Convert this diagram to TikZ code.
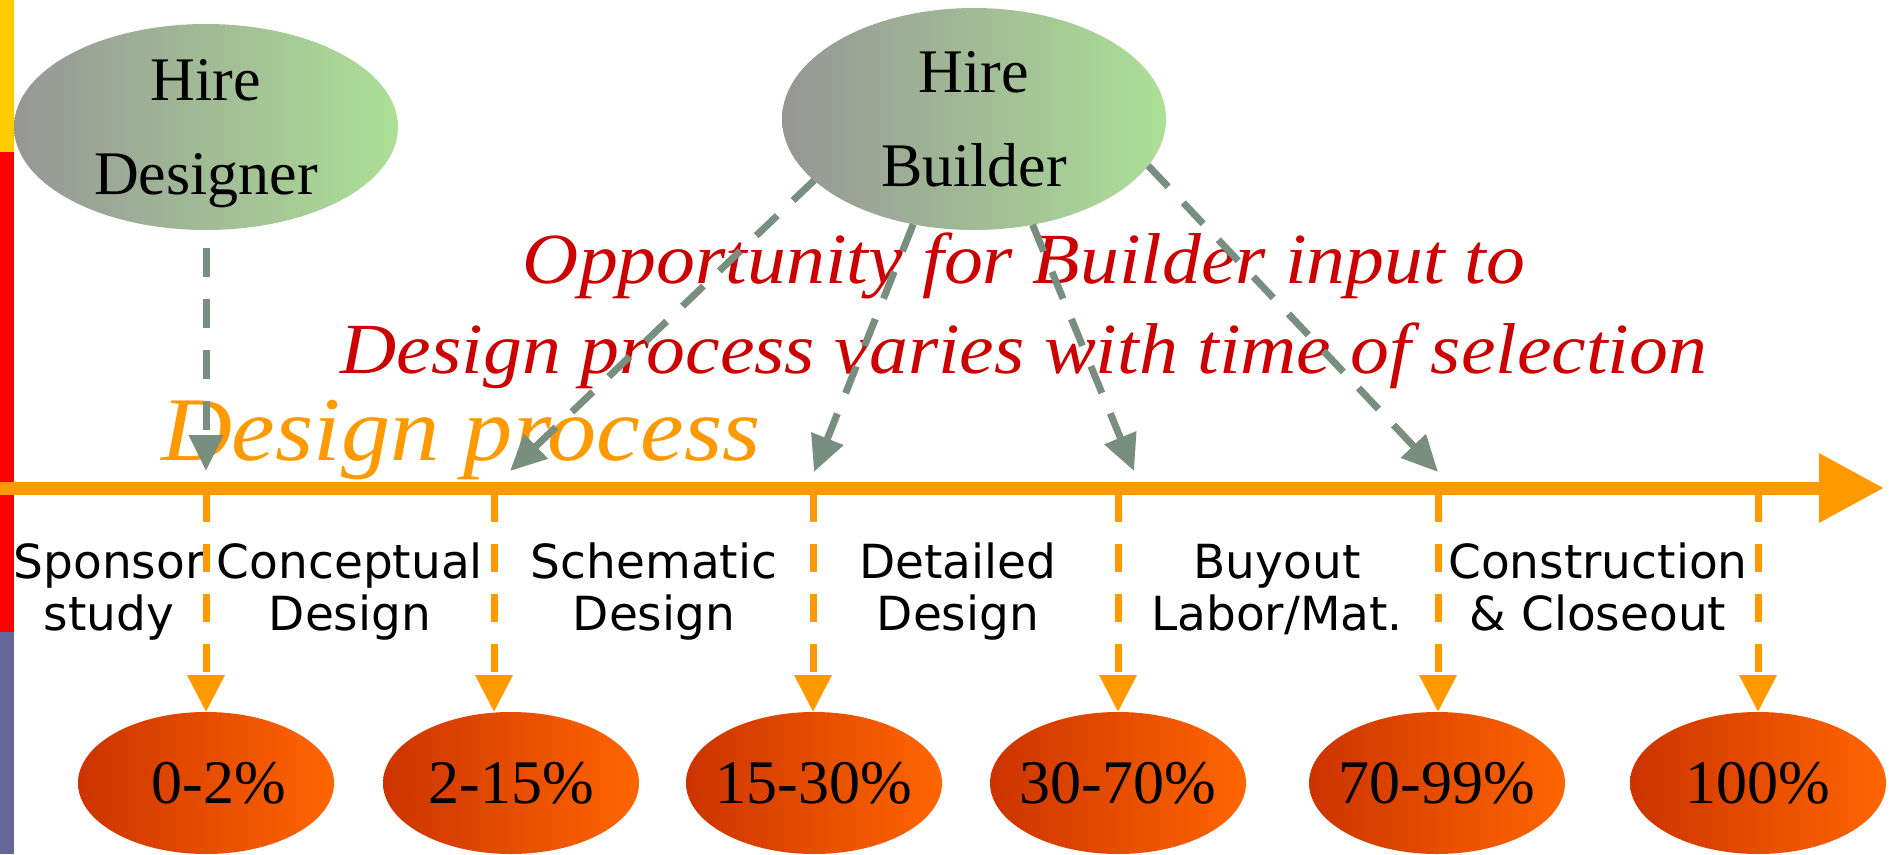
\documentclass[tikz,border=0pt]{standalone}
\usepackage{fontspec}
\setmainfont{Liberation Serif}
\setsansfont{DejaVu Sans}
\newfontfamily\slidefont{Liberation Serif}[FakeStretch=1.08]
\usepackage{tikz}
\usetikzlibrary{positioning,arrows.meta,shapes.geometric,calc}

\definecolor{barYellow}{HTML}{FFCC00}
\definecolor{barRed}{HTML}{FF0000}
\definecolor{barBlue}{HTML}{666699}
\definecolor{axisOrange}{HTML}{FF9900}
\definecolor{hintGrey}{RGB}{120,142,126}
\definecolor{hireL}{RGB}{150,150,150}
\definecolor{hireR}{RGB}{172,224,150}
\definecolor{pctL}{HTML}{CC3300}
\definecolor{pctR}{HTML}{FF6600}
\definecolor{noteRed}{HTML}{CC0000}

\begin{document}
\begin{tikzpicture}[x=1pt,y=-1pt,every node/.style={inner sep=0,outer sep=0},
    hire/.style={ellipse,minimum width=384pt,left color=hireL,right color=hireR,
        align=center,text depth=0pt,font=\fontsize{62}{94}\selectfont},
    pct/.style={ellipse,minimum width=256pt,minimum height=142pt,inner xsep=-40pt,
        left color=pctL,right color=pctR,font=\fontsize{62}{70}\selectfont},
    phase/.style={align=center,anchor=base,font=\sffamily\fontsize{47}{52}\selectfont},
    tick/.style={axisOrange,line width=7pt,dash pattern=on 28pt off 22pt,
        -{Triangle[length=37pt,width=36pt]}},
    hint/.style={hintGrey,line width=7pt,dash pattern=on 29pt off 22pt,
        -{Triangle[length=36pt,width=33pt]}}]

    \useasboundingbox (0,0) rectangle (1895,854);
    \fill[white] (0,0) rectangle (1895,854);

    % slide bar
    \fill[barYellow] (0,0) rectangle (14,152);
    \fill[barRed]    (0,152) rectangle (14,632);
    \fill[barBlue]   (0,632) rectangle (14,854);

    \node (designer) [hire,minimum height=206pt] at (206,127) {Hire\\Designer};
    \node (builder)  [hire,minimum height=222pt] at (974,119) {Hire\\Builder};

    % base of a two-line node is its last line
    \node (note) [align=center,anchor=base,text=noteRed,
        font=\slidefont\itshape\fontsize{72}{90}\selectfont] at (1024,373)
        {Opportunity for Builder input to\\Design process varies with time of selection};
    \node (title) [anchor=base west,text=axisOrange,
        font=\slidefont\itshape\fontsize{91}{91}\selectfont] at (161,460) {Design process};

    \node (p1) [pct] at (206,783) {\hspace{26pt}0-2\%};
    \node (p2) [pct] at (511,783) {2-15\%};
    \node (p3) [pct] at (814,783) {15-30\%};
    \node (p4) [pct] at (1118,783) {30-70\%};
    \node (p5) [pct] at (1437,783) {70-99\%};
    \node (p6) [pct] at (1758,783) {100\%};

    \node (sponsor)   [phase] at (109,630)  {Sponsor\\study};
    \node (concept)   [phase] at (350,630)  {Conceptual\\Design};
    \node (schematic) [phase] at (654,630)  {Schematic\\Design};
    \node (detailed)  [phase] at (958,630)  {Detailed\\Design};
    \node (buyout)    [phase] at (1277,630) {Buyout\\Labor/Mat.};
    \node (construct) [phase] at (1598,630) {Construction\\\& Closeout};

    \coordinate (axisL) at (0,488);
    \coordinate (axisR) at (1884,488);
    \draw[axisOrange,line width=13pt,-{Triangle[length=65pt,width=66pt]}] (axisL) -- (axisR);

    \coordinate (t1) at (206,494);
    \coordinate (t2) at (494,494);
    \coordinate (t3) at (813,494);
    \coordinate (t4) at (1118,494);
    \coordinate (t5) at (1438,494);
    \coordinate (t6) at (1758,494);
    \draw[tick] (t1) -- (t1 |- p1.north);
    \draw[tick] (t2) -- (t2 |- p2.north);
    \draw[tick] (t3) -- (t3 |- p3.north);
    \draw[tick] (t4) -- (t4 |- p4.north);
    \draw[tick] (t5) -- (t5 |- p5.north);
    \draw[tick] (t6) -- (t6 |- p6.north);

    % builder input points
    \coordinate (inD) at (206,471);
    \coordinate (inA) at (510,471);
    \coordinate (inB) at (814,472);
    \coordinate (inC) at (1134,471);
    \coordinate (inE) at (1438,472);
    \draw[hint,shorten <=18pt] (designer.south) -- (inD);
    \draw[hint] (builder.201.6) -- (inA);
    \draw[hint] (builder.240.8) -- (inB);
    \draw[hint] (builder.299.2) -- (inC);
    \draw[hint] (builder.345) -- (inE);

\end{tikzpicture}
\end{document}
